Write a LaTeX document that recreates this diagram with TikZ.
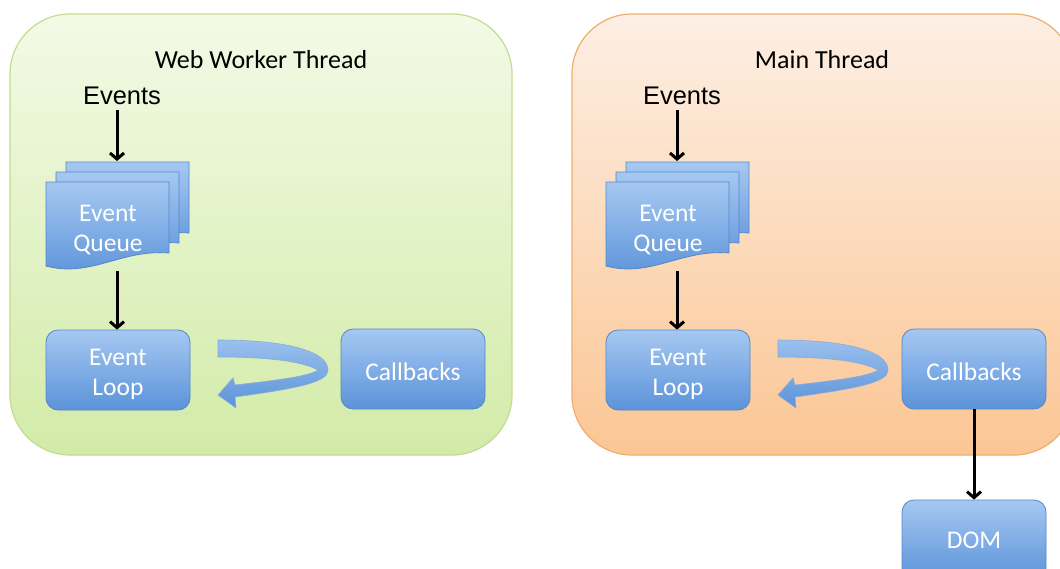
\documentclass[tikz,border=0pt]{standalone}
\usepackage{fontspec}
\setmainfont{Carlito}
\newfontfamily\arialf{Liberation Sans}
\usetikzlibrary{arrows.meta}
\definecolor{gtop}{HTML}{F3FAE6}
\definecolor{gbot}{HTML}{D2EBA8}
\definecolor{gedge}{HTML}{C2DC92}
\definecolor{otop}{HTML}{FDEFE4}
\definecolor{obot}{HTML}{FBC694}
\definecolor{oedge}{HTML}{F0AE6C}
\definecolor{btop}{HTML}{A6C8F2}
\definecolor{bbot}{HTML}{5B93D9}
\definecolor{bedge}{HTML}{5587C8}
\tikzset{
  panelL/.style={draw=gedge, line width=1.2pt, rounded corners=60pt, top color=gtop, bottom color=gbot},
  panelR/.style={draw=oedge, line width=1.2pt, rounded corners=60pt, top color=otop, bottom color=obot},
  bluebox/.style={draw=bedge, line width=0.8pt, rounded corners=12pt, top color=btop, bottom color=bbot,
    minimum width=144pt, minimum height=80pt, inner sep=0pt},
  boxtext/.style={text=white, font=\fontsize{25.5}{30}\selectfont, align=center, inner sep=0pt},
  titletext/.style={font=\fontsize{26}{30}\selectfont, inner sep=0pt},
  evtext/.style={font=\arialf\fontsize{25.5}{28}\selectfont, inner sep=0pt},
  flow/.style={line width=3pt, -{Straight Barb[length=6pt,width=14pt,line width=3pt]}},
  docstyle/.style={draw=bedge, line width=0.8pt, top color=btop, bottom color=bbot},
  docshape/.pic={\path[docstyle] (0,0) -- (123,0) -- (123,71) .. controls (75,67) and (45,96) .. (0,84) -- cycle;},
  ribbon/.pic={\path[draw=bedge!70, line width=0.6pt, top color=btop!85!bbot, bottom color=bbot]
     (218,340) .. controls (290,340) and (328,352) .. (328,370)
     .. controls (328,382) and (300,388) .. (235,397) -- (236,408) -- (218,395) -- (233,378) -- (235,385)
     .. controls (280,380) and (310,376) .. (318,370)
     .. controls (300,360) and (260,357) .. (218,357) -- cycle;}
}
\begin{document}
\begin{tikzpicture}[x=1pt,y=-1pt]
\useasboundingbox (0,0) rectangle (1060,568);
\fill[white] (0,0) rectangle (1060,568);
% panels
\path[panelL] (10,14) rectangle (512,455);
\path[panelR] (572,14) rectangle (1074,455);
% left panel
\node[titletext] (tL) at (261,60) {Web Worker Thread};
\node[evtext] (evL) at (122,96) {Events};
\pic at (66,162) {docshape};
\pic at (56,172) {docshape};
\pic at (46,182) {docshape};
\node[boxtext] (qL) at (108,230) {Event\\Queue};
\coordinate (qLtop) at (117,161);
\coordinate (qLbot) at (117,271);
\node[bluebox, label={[boxtext, yshift=-4pt]center:{Event\\Loop}}] (loopL) at (118,370) {};
\node[bluebox, label={[boxtext, yshift=-3pt]center:Callbacks}] (cbL) at (413,369) {};
\pic at (0,0) {ribbon};
\draw[flow] (evL.south -| qLtop) ++(0,5) -- (qLtop);
\draw[flow] (qLbot) -- (qLbot |- loopL.north);
% right panel
\node[titletext] (tR) at (822,60) {Main Thread};
\node[evtext] (evR) at (682,96) {Events};
\pic at (626,162) {docshape};
\pic at (616,172) {docshape};
\pic at (606,182) {docshape};
\node[boxtext] (qR) at (668,230) {Event\\Queue};
\coordinate (qRtop) at (677,161);
\coordinate (qRbot) at (677,271);
\node[bluebox, label={[boxtext, yshift=-4pt]center:{Event\\Loop}}] (loopR) at (678,370) {};
\node[bluebox, label={[boxtext, yshift=-3pt]center:Callbacks}] (cbR) at (974,369) {};
\pic at (560,0) {ribbon};
\node[bluebox, label={[boxtext]center:DOM}] (dom) at (974,540) {};
\draw[flow] (evR.south -| qRtop) ++(0,5) -- (qRtop);
\draw[flow] (qRbot) -- (qRbot |- loopR.north);
\draw[flow] (cbR.south) -- (dom.north);
\end{tikzpicture}
\end{document}
